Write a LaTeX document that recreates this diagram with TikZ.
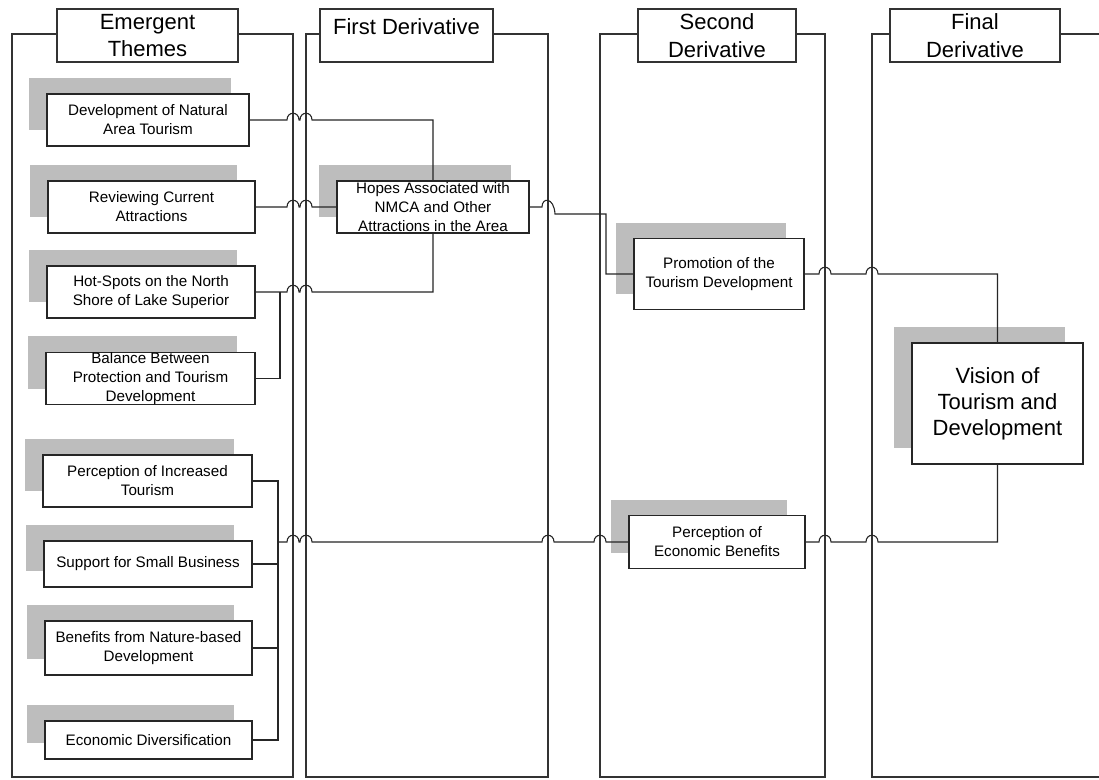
\documentclass[tikz,border=0pt]{standalone}
\usepackage{fontspec}
\setmainfont{Liberation Sans}
\usetikzlibrary{shadows}
% a small bridge where a connector crosses a frame line
\newcommand{\hopover}[2]{-- (#1-6,#2) .. controls (#1-6,#2-9) and (#1+6,#2-9) .. (#1+6,#2)}

\begin{document}
\begin{tikzpicture}[x=0.75pt,y=-0.75pt,
  frame/.style={draw=black!80, line width=0.8pt},
  link/.style={draw=black!85, line width=0.8pt},
  ttl/.style={draw=black!80, line width=0.8pt, fill=white, align=center, inner sep=0pt,
    font=\fontsize{16.5}{20.5}\selectfont},
  box/.style={draw=black!85, line width=0.8pt, fill=white, align=center, inner sep=0pt,
    font=\fontsize{11.4}{14.25}\selectfont,
    general shadow={shadow xshift=-13.5pt, shadow yshift=12pt, fill=black!26}},
  bigbox/.style={box, font=\fontsize{16.5}{19.5}\selectfont},
  sz/.style 2 args={minimum width=#1*0.75pt, minimum height=#2*0.75pt}]

\useasboundingbox (0,0) rectangle (1099,779);
\fill[white] (0,0) rectangle (1099,779);

% column frames
\draw[frame] (12,34) rectangle (293,777);
\draw[frame] (306,34) rectangle (548,777);
\draw[frame] (600,34) rectangle (825,777);
\draw[frame] (1099,34) -- (872,34) -- (872,777) -- (1099,777);

% column headings
\node[ttl, sz={181}{53}] (t1) at (147.5,35.5) {Emergent\\Themes};
\node[ttl, sz={173}{53}] (t2) at (406.5,35.5) {};
\node[font=\fontsize{16.5}{20.5}\selectfont, inner sep=0pt] (t2txt) at (406.5,27) {First Derivative};
\node[ttl, sz={158}{53}] (t3) at (717,35.5) {Second\\Derivative};
\node[ttl, sz={170}{53}] (t4) at (975,35.5) {Final\\Derivative};

% emergent themes
\node[box, sz={202}{52}] (dev)  at (148,120)   {Development of Natural\\Area Tourism};
\node[box, sz={207}{52}] (rev)  at (151.5,207) {Reviewing Current\\Attractions};
\node[box, sz={208}{52}] (hot)  at (151,292)   {Hot-Spots on the North\\Shore of Lake Superior};
\node[box, sz={209}{51}] (bal)  at (150.5,378.5) {Balance Between\\Protection and Tourism\\Development};
\node[box, sz={209}{52}] (perc) at (147.5,481) {Perception of Increased\\Tourism};
\node[box, sz={208}{46}] (supp) at (148,564) {Support for Small Business};
\node[box, sz={207}{54}] (ben)  at (148.5,648) {Benefits from Nature-based\\Development};
\node[box, sz={207}{38}] (eco)  at (148.5,740) {Economic Diversification};

% first derivative
\node[box, sz={192}{52}] (hopes) at (433,207) {Hopes Associated with\\NMCA and Other\\Attractions in the Area};

% second derivative
\node[box, sz={170}{71}] (promo) at (719,274) {Promotion of the\\Tourism Development};
\node[box, sz={176}{53}] (peb)   at (717,542) {Perception of\\Economic Benefits};

% final derivative
\node[bigbox, sz={171}{121}] (vision) at (997.5,403.5) {Vision of\\Tourism and\\Development};

% junction points
\coordinate (j1) at (280,292);
\coordinate (j2) at (278,542);
\coordinate (k1) at (606,214);

% connectors into the first derivative
\draw[link] (dev.east) \hopover{293}{120} \hopover{306}{120} -| (hopes.north);
\draw[link] (rev.east) \hopover{293}{207} \hopover{306}{207} -- (hopes.west);
\draw[link] (hot.east) -- (j1) \hopover{293}{292} \hopover{306}{292} -| (hopes.south);
\draw[link] (bal.east) -| (j1);

% second group joined on one bus
\draw[link] (perc.east) -| (j2 |- eco.east) -- (eco.east);
\draw[link] (supp.east) -- (supp.east -| j2);
\draw[link] (ben.east) -- (ben.east -| j2);
\draw[link] (j2) \hopover{293}{542} \hopover{306}{542} \hopover{548}{542} \hopover{600}{542} -- (peb.west);

% first to second derivative
\draw[link] (hopes.east) -- (542,207) .. controls (542,197) and (554,197) .. (555,214) -- (k1) |- (promo.west);

% second to final derivative
\draw[link] (promo.east) \hopover{825}{274} \hopover{872}{274} -| (vision.north);
\draw[link] (peb.east) \hopover{825}{542} \hopover{872}{542} -| (vision.south);

\end{tikzpicture}
\end{document}
